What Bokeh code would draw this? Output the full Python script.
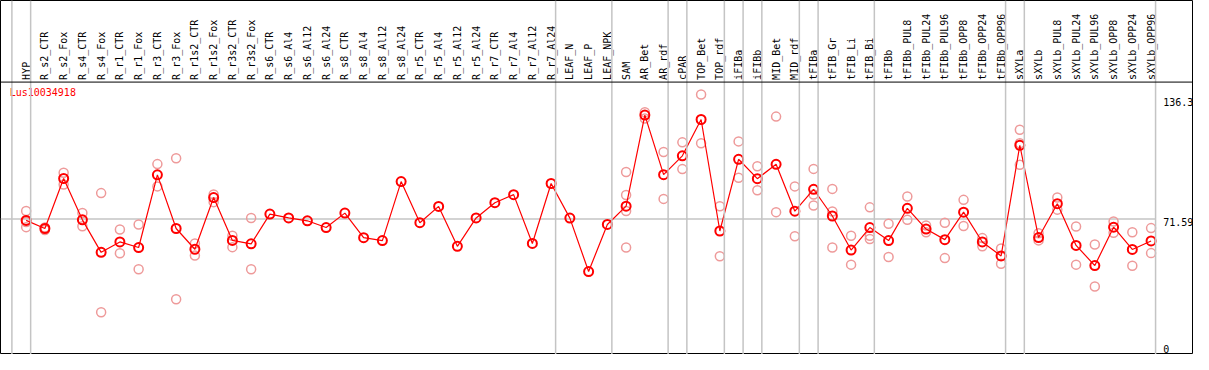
import math
from bokeh.plotting import figure
from bokeh.models import Range1d, Span
from bokeh.core.properties import value
from bokeh.embed import file_html
from bokeh.resources import INLINE

# ---------------- data ----------------
gene = "Lus10034918"

categories = [
    "HYP", "R_s2_CTR", "R_s2_Fox", "R_s4_CTR", "R_s4_Fox", "R_r1_CTR", "R_r1_Fox",
    "R_r3_CTR", "R_r3_Fox", "R_r1s2_CTR", "R_r1s2_Fox", "R_r3s2_CTR", "R_r3s2_Fox",
    "R_s6_CTR", "R_s6_Al4", "R_s6_Al12", "R_s6_Al24", "R_s8_CTR", "R_s8_Al4",
    "R_s8_Al12", "R_s8_Al24", "R_r5_CTR", "R_r5_Al4", "R_r5_Al12", "R_r5_Al24",
    "R_r7_CTR", "R_r7_Al4", "R_r7_Al12", "R_r7_Al24", "LEAF_N", "LEAF_P", "LEAF_NPK",
    "SAM", "AR_Bet", "AR_rdf", "cPAR", "TOP_Bet", "TOP_rdf", "iFIBa", "iFIBb",
    "MID_Bet", "MID_rdf", "tFIBa", "tFIB_Gr", "tFIB_Li", "tFIB_Bi", "tFIBb",
    "tFIBb_PUL8", "tFIBb_PUL24", "tFIBb_PUL96", "tFIBb_OPP8", "tFIBb_OPP24",
    "tFIBb_OPP96", "sXYLa", "sXYLb", "sXYLb_PUL8", "sXYLb_PUL24", "sXYLb_PUL96",
    "sXYLb_OPP8", "sXYLb_OPP24", "sXYLb_OPP96",
]

means = [
    70.8, 66.6, 92.6, 71.1, 54.2, 59.6, 56.7, 94.5, 66.6, 55.8,
    82.7, 60.4, 58.6, 74.1, 72.1, 70.6, 67.1, 74.6, 61.8, 60.3,
    91.0, 69.6, 78.1, 57.3, 72.1, 80.0, 84.2, 58.8, 90.0, 72.0,
    44.2, 68.7, 78.2, 125.6, 94.6, 104.4, 123.3, 65.3, 102.6, 92.5,
    100.0, 75.6, 87.0, 73.1, 55.4, 67.1, 60.3, 77.1, 66.3, 60.8,
    75.1, 59.6, 52.3, 109.9, 61.9, 79.5, 57.8, 47.3, 67.3, 55.7,
    60.1,
]

replicates = [
    [75.7, 70.0, 67.3], [67.1, 65.8], [95.6, 89.5], [74.7, 67.8], [85.0, 23.0],
    [66.1, 53.7], [68.7, 45.4], [100.1, 88.5], [103.1, 29.8], [58.8, 52.5],
    [84.3, 80.3], [62.8, 56.9], [72.1, 45.4],
    [], [], [], [], [], [], [], [], [], [], [], [], [], [], [], [], [], [], [],
    [96.0, 84.0, 75.7, 56.7], [127.1, 123.8], [106.4, 82.0], [111.4, 97.5],
    [136.3, 110.9], [78.2, 52.2], [111.9, 93.0], [99.0, 86.5], [124.8, 75.1],
    [88.5, 62.6], [97.6, 84.3, 78.6], [87.2, 75.4, 56.7], [62.8, 47.8],
    [77.6, 62.8, 61.1], [69.1, 51.8], [83.2, 71.1], [68.2, 64.6], [69.6, 51.2],
    [81.5, 67.9], [61.6, 57.4], [56.2, 48.3], [118.0, 111.0, 99.8], [64.1, 60.4],
    [82.7, 76.4], [67.6, 47.8], [58.3, 36.4], [70.2, 64.4], [64.6, 47.2],
    [66.8, 53.8],
]

# last category index of each group (group separators drawn after these)
group_ends = [-1, 0, 28, 31, 34, 35, 37, 38, 39, 41, 42, 45, 52, 53, 60]

scale_values = [136.3, 71.59, 0]
scale_labels = ["136.3", "71.59", "0"]
reference_line = 71.59

# ---------------- layout ----------------
W, H = 1193, 354
X_START, X_END = -1.368, 62.263
Y_START, Y_END = 1.05, 185.2
HEADER_BOTTOM = 142.76
LABEL_BASE = 143.9
SEP_OFFSET = 0.24
MONO = value("DejaVu Sans Mono")

p = figure(width=W, height=H, x_range=Range1d(X_START, X_END),
           y_range=Range1d(Y_START, Y_END), x_axis_type=None, y_axis_type=None,
           toolbar_location=None, output_backend="svg", min_border=0,
           outline_line_color="black", outline_line_width=1)
p.background_fill_color = "white"
p.border_fill_color = "white"

xs = list(range(len(categories)))

# group separators (full height)
for g in group_ends:
    p.add_layout(Span(location=g + SEP_OFFSET, dimension="height",
                      line_color="#c4c4c4", line_width=1.5))

# reference horizontal line
p.segment(x0=[X_START], y0=[reference_line], x1=[group_ends[-1] + SEP_OFFSET],
          y1=[reference_line], line_color="#c4c4c4", line_width=1.5)

# header bottom line
p.add_layout(Span(location=HEADER_BOTTOM, dimension="width",
                  line_color="black", line_width=1))

# category labels (vertical)
p.text(x=xs, y=[LABEL_BASE] * len(xs), text=categories, angle=math.pi / 2,
       text_align="left", text_baseline="middle", text_font=MONO,
       text_font_size="10px", text_color="black")

# replicates
rx, ry = [], []
for i, reps in enumerate(replicates):
    for r in reps:
        rx.append(i)
        ry.append(r)
p.scatter(rx, ry, marker="circle", size=9, fill_color=None,
          line_color="#ee9a9a", line_width=1.5)

# mean line + markers
p.line(xs, means, line_color="#ff0000", line_width=1.2)
p.scatter(xs, means, marker="circle", size=9, fill_color=None,
          line_color="#ff0000", line_width=2)

# gene title
p.text(x=[X_START + 0.49], y=[137.1], text=[gene], text_align="left",
       text_baseline="middle", text_font=MONO, text_font_size="10px",
       text_color="#ff0000")

# scale labels on the right
lx = group_ends[-1] + 0.65
p.text(x=[lx], y=[scale_values[0]], text=[scale_labels[0]], text_align="left",
       text_baseline="top", y_offset=3, text_font=MONO, text_font_size="10px",
       text_color="black")
p.text(x=[lx], y=[scale_values[1]], text=[scale_labels[1]], text_align="left",
       text_baseline="top", y_offset=-1, text_font=MONO, text_font_size="10px",
       text_color="black")
p.text(x=[lx], y=[scale_values[2]], text=[scale_labels[2]], text_align="left",
       text_baseline="bottom", y_offset=-4, text_font=MONO,
       text_font_size="10px", text_color="black")

open("out.html", "w").write(file_html(p, INLINE))
